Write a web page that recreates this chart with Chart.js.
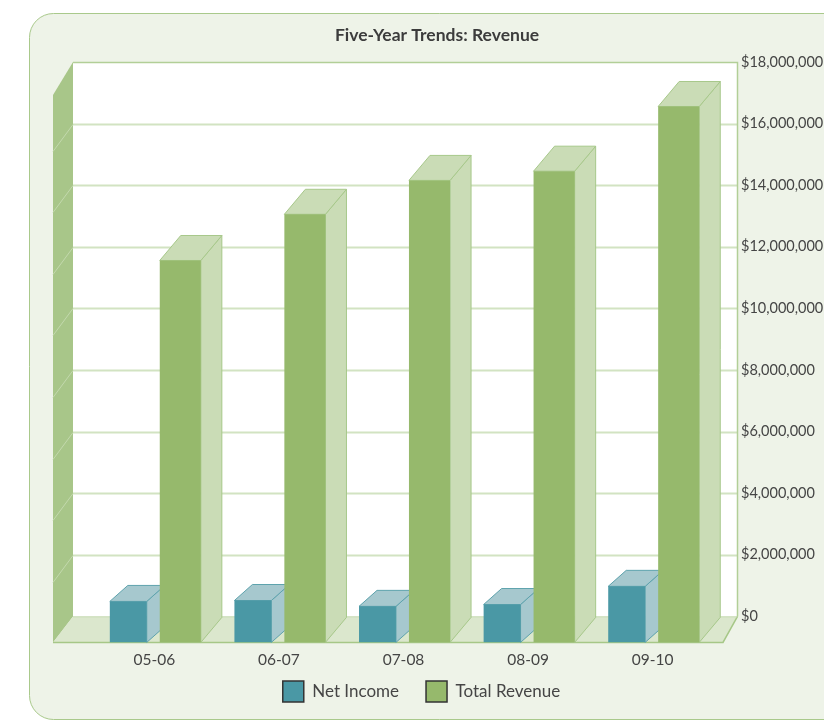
<!DOCTYPE html>
<html>
<head>
<meta charset="utf-8">
<script src="https://cdn.jsdelivr.net/npm/chart.js@4.4.0/dist/chart.umd.min.js"></script>
<style>
  html, body { margin: 0; padding: 0; background: #fff; }
  #wrap { width: 824px; height: 722px; }
</style>
</head>
<body>
<div id="wrap"><canvas id="myChart" width="824" height="722"></canvas></div>
<script>
const years = ["05-06", "06-07", "07-08", "08-09", "09-10"];
const netIncome = [1330000, 1360000, 1170000, 1230000, 1820000];
const totalRevenue = [12400000, 13900000, 15000000, 15300000, 17400000];
const yTicks = [0, 2000000, 4000000, 6000000, 8000000, 10000000, 12000000, 14000000, 16000000, 18000000];

// floor depth in px, plot height in px (top of back wall to front edge of floor)
const FLOOR_DEPTH = 26;
const PLOT_H = 580;
const Y_MAX = 18000000;

function poly(ctx, pts, fill, stroke) {
  ctx.beginPath();
  ctx.moveTo(pts[0][0], pts[0][1]);
  for (let i = 1; i < pts.length; i++) ctx.lineTo(pts[i][0], pts[i][1]);
  ctx.closePath();
  if (fill) {
    ctx.fillStyle = fill;
    ctx.fill();
  }
  if (stroke) {
    ctx.strokeStyle = stroke;
    ctx.lineWidth = 1;
    ctx.stroke();
  }
}

function roundRect(ctx, x, y, w, h, r) {
  ctx.beginPath();
  ctx.moveTo(x + r, y);
  ctx.arcTo(x + w, y, x + w, y + h, r);
  ctx.arcTo(x + w, y + h, x, y + h, r);
  ctx.arcTo(x, y + h, x, y, r);
  ctx.arcTo(x, y, x + w, y, r);
  ctx.closePath();
}

const box3d = {
  id: "box3d",
  afterLayout(chart) {
    // center legend and title on the panel instead of the padded canvas
    const lg = chart.legend;
    if (lg) {
      lg.left -= 8;
      lg.right = lg.left + 675;
      lg.width = 675;
      lg.top -= 15;
      lg.bottom -= 15;
    }
    const tb = chart.titleBlock;
    if (tb) {
      tb.left = 50;
      tb.right = 824;
      tb.width = 774;
    }
  },
  beforeDraw(chart) {
    const ctx = chart.ctx;
    ctx.save();
    ctx.fillStyle = "#fff";
    ctx.fillRect(0, 0, chart.width, chart.height);
    roundRect(ctx, 29.5, 13.5, 860, 706, 24);
    ctx.fillStyle = "#eef3e8";
    ctx.fill();
    ctx.strokeStyle = "#a9c98b";
    ctx.lineWidth = 1;
    ctx.stroke();
    ctx.restore();
  },
  beforeDatasetsDraw(chart) {
    const { ctx, chartArea: a } = chart;
    const y = chart.scales.y;
    const wallL = a.left - 19;
    const wallR = a.right + 22;
    const wallT = a.top;
    const wallB = y.getPixelForValue(0);
    const frontL = wallL - 20;
    const frontR = wallR - 14;
    const frontB = a.bottom;

    ctx.save();
    // back wall
    ctx.fillStyle = "#fff";
    ctx.fillRect(wallL, wallT, wallR - wallL, wallB - wallT);

    // left wall
    poly(ctx, [[frontL, wallT + 33], [wallL, wallT], [wallL, wallB], [frontL, frontB]], "#a8c689", null);

    // grid lines on back wall and their trace on the left wall
    y.ticks.forEach((t) => {
      if (t.value <= 0 || t.value >= Y_MAX) return;
      const py = Math.round(y.getPixelForValue(t.value)) + 0.5;
      ctx.strokeStyle = "#d2e3c2";
      ctx.lineWidth = 1.8;
      ctx.beginPath();
      ctx.moveTo(wallL, py);
      ctx.lineTo(wallR, py);
      ctx.stroke();
      ctx.strokeStyle = "#c3d9ad";
      ctx.lineWidth = 1;
      ctx.beginPath();
      ctx.moveTo(wallL, py);
      ctx.lineTo(frontL, py + 27);
      ctx.stroke();
    });

    // wall borders
    ctx.strokeStyle = "#b2cf97";
    ctx.lineWidth = 1.5;
    ctx.beginPath();
    ctx.moveTo(wallL, wallT + 0.5);
    ctx.lineTo(wallR + 0.5, wallT + 0.5);
    ctx.lineTo(wallR + 0.5, wallB);
    ctx.stroke();

    // floor
    poly(ctx, [[wallL, wallB], [wallR, wallB], [frontR, frontB], [frontL, frontB]], "#dbe7cd", null);
    ctx.strokeStyle = "#a6c787";
    ctx.lineWidth = 1.5;
    ctx.beginPath();
    ctx.moveTo(wallR + 0.5, wallB);
    ctx.lineTo(frontR, frontB);
    ctx.lineTo(frontL, frontB);
    ctx.stroke();
    ctx.strokeStyle = "#c9dcb5";
    ctx.lineWidth = 1;
    ctx.beginPath();
    ctx.moveTo(wallL, wallB + 0.5);
    ctx.lineTo(wallR, wallB + 0.5);
    ctx.stroke();

    // bar tops and sides; the library draws the front faces afterwards
    chart.data.datasets.forEach((ds, di) => {
      const meta = chart.getDatasetMeta(di);
      const [dx, dy] = ds.depth;
      meta.data.forEach((bar) => {
        const { x, y: top, base, width } = bar.getProps(["x", "y", "base", "width"], true);
        const x0 = x - width / 2;
        const x1 = x + width / 2;
        poly(ctx, [[x1, top], [x1 + dx, top - dy], [x1 + dx, base - dy], [x1, base]], ds.sideColor, ds.edgeColor);
        poly(ctx, [[x0, top], [x0 + dx, top - dy], [x1 + dx, top - dy], [x1, top]], ds.sideColor, ds.edgeColor);
      });
    });
    ctx.restore();
  },
};

const chart = new Chart("myChart", {
  type: "bar",
  data: {
    labels: years,
    datasets: [
      {
        label: "Net Income",
        data: netIncome,
        yAxisID: "yf",
        backgroundColor: "#4a98a5",
        borderWidth: 0,
        barPercentage: 0.71,
        categoryPercentage: 0.835,
        depth: [18, 16],
        sideColor: "#a6c8ce",
        edgeColor: "#5ea3ad",
      },
      {
        label: "Total Revenue",
        data: totalRevenue,
        yAxisID: "yf",
        backgroundColor: "#96b96c",
        borderWidth: 0,
        barPercentage: 0.79,
        categoryPercentage: 0.835,
        depth: [21, 25],
        sideColor: "#cadcb6",
        edgeColor: "#a7c88a",
      },
    ],
  },
  options: {
    responsive: false,
    animation: false,
    events: [],
    layout: { padding: { left: 92, right: 0, top: 0, bottom: 0 } },
    scales: {
      x: {
        grid: { display: false },
        border: { display: false },
        ticks: { color: "#454545", padding: 0, font: { family: "Lato", size: 15.5 } },
      },
      y: {
        position: "right",
        min: -Y_MAX * FLOOR_DEPTH / (PLOT_H - FLOOR_DEPTH),
        max: Y_MAX,
        grid: { display: false },
        border: { display: false },
        afterBuildTicks: (s) => { s.ticks = yTicks.map((v) => ({ value: v })); },
        afterFit: (s) => { s.width = 109; },
        ticks: {
          color: "#454545",
          padding: 18,
          font: { family: "Lato", size: 14.5 },
          callback: (v) => "$" + Number(v).toLocaleString("en-US"),
        },
      },
      yf: {
        display: false,
        min: 0,
        max: Y_MAX * PLOT_H / (PLOT_H - FLOOR_DEPTH),
      },
    },
    plugins: {
      title: {
        display: true,
        text: "Five-Year Trends: Revenue",
        color: "#3c3c3c",
        font: { family: "Lato", size: 17.5, weight: "bold" },
        padding: { top: 24.5, bottom: 16.5 },
      },
      legend: {
        position: "bottom",
        maxHeight: 53,
        labels: {
          boxWidth: 21,
          boxHeight: 21,
          padding: 27,
          color: "#454545",
          font: { family: "Lato", size: 17 },
          generateLabels: (c) => c.data.datasets.map((ds, i) => ({
            text: ds.label,
            fillStyle: ds.backgroundColor,
            strokeStyle: "#333",
            lineWidth: 1.5,
            hidden: false,
            datasetIndex: i,
            fontColor: "#454545",
          })),
        },
      },
      tooltip: { enabled: false },
    },
  },
  plugins: [box3d],
});
</script>
</body>
</html>
